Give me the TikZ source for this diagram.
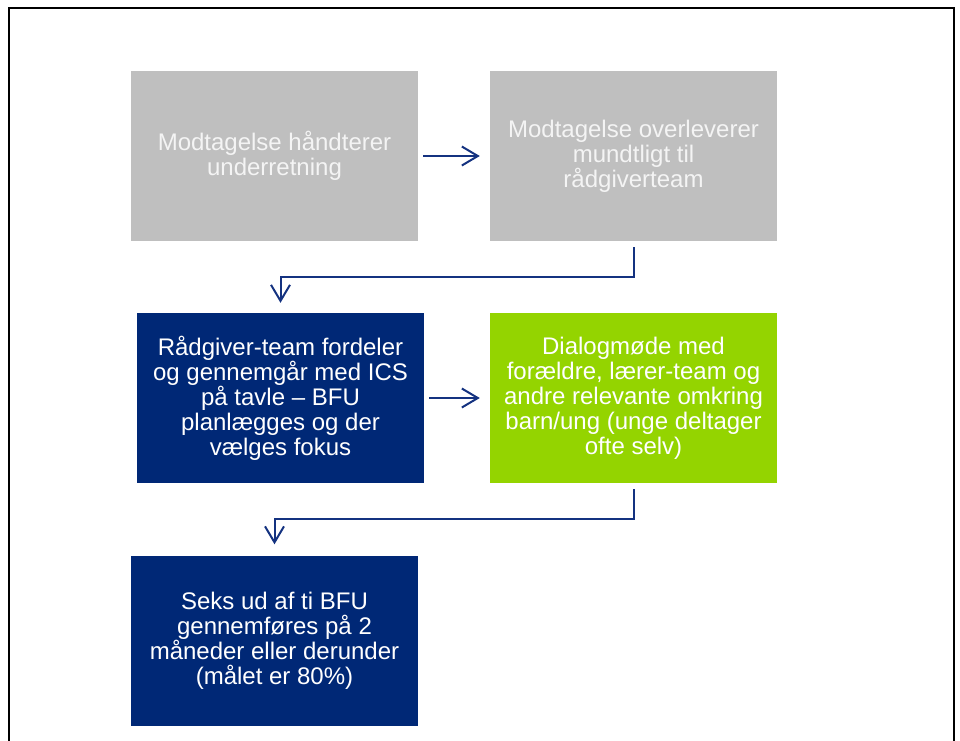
\documentclass[tikz,border=0pt]{standalone}
\usepackage{fontspec}
\setmainfont{Liberation Sans}
\usetikzlibrary{arrows.meta,calc}
\definecolor{boxgray}{RGB}{191,191,191}
\definecolor{boxnavy}{RGB}{0,40,118}
\definecolor{boxgreen}{RGB}{148,212,0}
\definecolor{linknavy}{RGB}{20,50,128}
\definecolor{softwhite}{RGB}{244,244,244}
\tikzset{
  flowbox/.style={rectangle, inner sep=0pt, minimum width=287pt, minimum height=170pt,
    align=center, font=\fontsize{24}{25}\selectfont},
  graybox/.style={flowbox, fill=boxgray, text=softwhite},
  navybox/.style={flowbox, fill=boxnavy, text=white},
  greenbox/.style={flowbox, fill=boxgreen, text=white},
  link/.style={draw=linknavy, line width=2pt,
    -{Straight Barb[length=16pt,width=19pt,line width=2pt]}}
}
\begin{document}
\begin{tikzpicture}[x=1pt,y=-1pt]
  \useasboundingbox (0,0) rectangle (960,740);
  \begin{scope}
    \clip (0,0) rectangle (960,740);
    \draw[line width=2pt] (9,8) rectangle (954,760);
  \end{scope}

  \node[graybox]  (b1) at (274.5,156) {Modtagelse håndterer\\underretning};
  \node[graybox]  (b2) at (633.5,156) {Modtagelse overleverer\\mundtligt til\\rådgiverteam};
  \node[navybox]  (b3) at (280.5,398) {Rådgiver-team fordeler\\og gennemgår med ICS\\på tavle – BFU\\planlægges og der\\vælges fokus};
  \node[greenbox] (b4) at (633.5,398) {Dialogmøde med\\forældre, lærer-team og\\andre relevante omkring\\barn/ung (unge deltager\\ofte selv)};
  \node[navybox]  (b5) at (274.5,640.5) {Seks ud af ti BFU\\gennemføres på 2\\måneder eller derunder\\(målet er 80\%)};

  \draw[link] ($(b1.east)+(5,0)$) -- ($(b2.west)+(-10,0)$);
  \draw[link] ($(b3.east)+(5,0)$) -- ($(b4.west)+(-10,0)$);
  \draw[link] ($(b2.south)+(0,6)$) -- ++(0,30) -| ($(b3.north)+(0,-10)$);
  \draw[link] ($(b4.south)+(0,6)$) -- ++(0,30) -| ($(b5.north)+(0,-11)$);
\end{tikzpicture}
\end{document}
